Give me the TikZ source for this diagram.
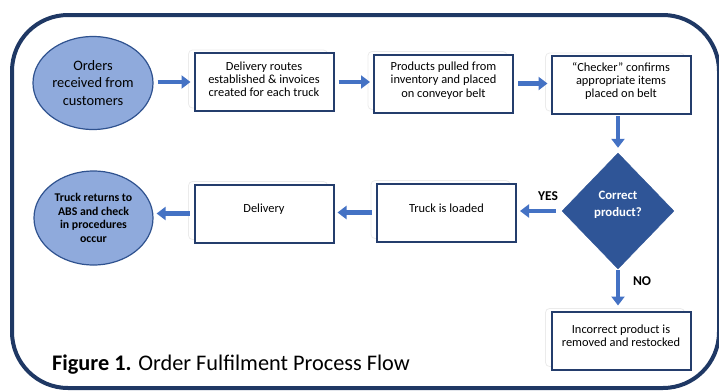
\documentclass[tikz,border=0pt]{standalone}
\usepackage{fontspec}
\setmainfont{Carlito}
\usetikzlibrary{shapes.geometric,arrows.meta}

\definecolor{frameblue}{HTML}{1F3864}
\definecolor{boxline}{HTML}{243D6C}
\definecolor{arrowblue}{HTML}{4472C4}
\definecolor{ovalfill}{HTML}{8FAADC}
\definecolor{ovalline}{HTML}{2F528F}
\definecolor{decfill}{HTML}{2F5597}

\tikzset{
  procbox/.style={draw=boxline, line width=2pt, fill=white,
    minimum width=139pt, minimum height=58pt, inner sep=0pt},
  boxtext/.style={align=center, inner sep=0pt,
    font=\fontsize{12.4}{13.2}\selectfont},
  ghost/.style={draw=gray!16, line width=0.8pt, rounded corners=4pt},
  oval/.style={ellipse, draw=ovalline, line width=1.2pt, fill=ovalfill,
    minimum width=120pt, minimum height=93pt, inner sep=0pt, align=center},
  decision/.style={diamond, aspect=1, fill=decfill, draw=decfill,
    minimum width=112pt, minimum height=116pt, inner sep=0pt},
  flow/.style={draw=arrowblue, line width=4.5pt,
    -{Triangle[width=13pt,length=9pt]}, shorten >=3pt, shorten <=4pt},
  tag/.style={font=\fontsize{13.5}{15}\selectfont\bfseries, inner sep=0pt}
}

\begin{document}
\begin{tikzpicture}[x=1pt,y=-1pt]
\useasboundingbox (0,0) rectangle (719,391);

% outer rounded frame
\draw[frameblue, line width=4pt, rounded corners=56pt] (12,15) rectangle (719,388);

% faint offset outlines behind the process boxes
\foreach \cx/\cy in {264/82, 443.5/83.5, 621/85, 446.5/212.5, 264/213.5, 621/340.5}
  \draw[ghost] (\cx-69.5-6,\cy-29-3) rectangle (\cx+69.5-6,\cy+29-3);

% top row
\node[oval, font=\fontsize{14.4}{17.3}\selectfont] (orders) at (93,83)
  {Orders\\received from\\customers};
\node[procbox] (routes) at (264,82) {};
\node[boxtext] (routest) at ([yshift=3pt]routes.center)
  {Delivery routes\\established \& invoices\\created for each truck};
\node[procbox] (pulled) at (443.5,83.5) {};
\node[boxtext] (pulledt) at ([yshift=3pt]pulled.center)
  {Products pulled from\\inventory and placed\\on conveyor belt};
\node[procbox] (checker) at (621,85) {};
\node[boxtext] (checkert) at ([yshift=4pt]checker.center)
  {“Checker” confirms\\appropriate items\\placed on belt};

% decision
\node[decision] (correct) at (618,211) {};
\node[font=\fontsize{12.8}{17.5}\selectfont\bfseries, text=white, align=center,
  inner sep=0pt] (correctt) at ([yshift=6pt]correct.center) {Correct\\product?};

% bottom row
\node[procbox] (loaded) at (446.5,212.5) {};
\node[boxtext] (loadedt) at ([yshift=4pt]loaded.center) {Truck is loaded};
\node[procbox] (delivery) at (264,213.5) {};
\node[boxtext] (deliveryt) at ([yshift=4pt]delivery.center) {Delivery};
\node[oval, minimum width=119pt, minimum height=94pt,
  font=\fontsize{11.8}{13.6}\selectfont\bfseries] (returns) at (93.5,218)
  {Truck returns to\\ABS and check\\in procedures\\occur};

\node[procbox] (restock) at (621,340.5) {};
\node[boxtext] (restockt) at ([yshift=5pt]restock.center)
  {Incorrect product is\\removed and restocked};

% connectors
\draw[flow] (orders.east |- routes.west) -- (routes.west);
\draw[flow] (routes.east) -- (routes.east -| pulled.west);
\draw[flow] (pulled.east) -- (pulled.east -| checker.west);
\draw[flow, shorten >=5pt, shorten <=1pt] (checker.south -| correct.north) -- (correct.north);
\draw[flow, shorten <=6pt] (correct.west) -- (correct.west -| loaded.east);
\draw[flow] (loaded.west) -- (loaded.west -| delivery.east);
\draw[flow] (delivery.west) -- (delivery.west -| returns.east);
\draw[flow, shorten >=5pt, shorten <=1pt] (correct.south) -- (correct.south |- restock.north);

% branch labels
\node[tag] (yes) at (548,196) {YES};
\node[tag] (no) at (642,281) {NO};

% caption
\node[anchor=base west, inner sep=0pt, font=\fontsize{22.3}{25}\selectfont] (caption)
  at (52,370) {\textbf{Figure 1.} Order Fulfilment Process Flow};
\end{tikzpicture}
\end{document}
